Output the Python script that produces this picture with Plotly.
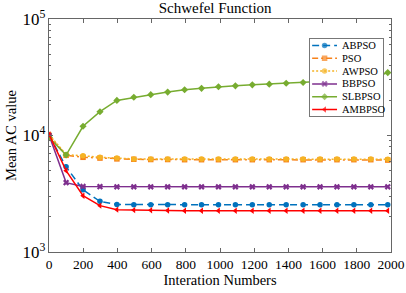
import plotly.graph_objects as go

iters = [1 + 99 * k for k in range(21)]

abpso = [10000, 5390, 3420, 2720, 2560, 2550, 2550, 2550, 2550, 2550, 2550,
         2550, 2550, 2550, 2550, 2550, 2550, 2550, 2550, 2550, 2550]
pso = [10000, 6760, 6500, 6400, 6300, 6250, 6220, 6220, 6200, 6200, 6200,
       6200, 6200, 6200, 6200, 6200, 6200, 6200, 6200, 6200, 6150]
awpso = [10200, 6850, 6700, 6500, 6400, 6300, 6300, 6300, 6280, 6280, 6280,
         6280, 6280, 6280, 6280, 6280, 6280, 6280, 6280, 6280, 6250]
bbpso = [10000, 3940, 3650, 3640, 3630, 3630, 3630, 3630, 3630, 3630, 3630,
         3630, 3630, 3630, 3630, 3630, 3630, 3630, 3630, 3630, 3630]
slbpso = [9600, 6800, 12000, 16000, 20000, 21300, 22400, 23600, 24700, 25400,
          26200, 26700, 27200, 27600, 28100, 28500, 28900, 29400, 29900, 30500, 34700]
ambpso = [10200, 4990, 3040, 2500, 2310, 2290, 2280, 2270, 2260, 2260, 2260,
          2260, 2260, 2260, 2260, 2260, 2260, 2260, 2260, 2260, 2260]

names = ["ABPSO", "PSO", "AWPSO", "BBPSO", "SLBPSO", "AMBPSO"]
values = [abpso, pso, awpso, bbpso, slbpso, ambpso]
colors = ["#0072BD", "#F7821B", "#F5B324", "#7E2F8E", "#77AC30", "#FF0000"]
dashes = ["7px,4px", "6px,3px,2px,3px", "2px,2px", "solid", "solid", "solid"]
symbols = ["circle", "square", "circle", "x", "diamond", "triangle-left"]

font = "Liberation Serif"
axcol = "#666666"

fig = go.Figure()
for name, vals, col, dash, sym in zip(names, values, colors, dashes, symbols):
    fig.add_trace(go.Scatter(
        x=iters, y=vals, name=name, mode="lines+markers", showlegend=False,
        line=dict(color=col, dash=dash, width=1.5),
        marker=dict(symbol=sym, size=5.5, color=col, line=dict(width=0)),
    ))

# custom legend drawn in a small inset subplot
for i, (name, col, dash, sym) in enumerate(zip(names, colors, dashes, symbols)):
    row = i + 0.5
    fig.add_trace(go.Scatter(
        x=[0.03, 0.2, 0.37], y=[row, row, row], mode="lines+markers",
        xaxis="x2", yaxis="y2", showlegend=False, hoverinfo="skip",
        line=dict(color=col, dash=dash, width=1.5),
        marker=dict(symbol=sym, size=[0, 5.5, 0], color=col, line=dict(width=0)),
    ))
    fig.add_annotation(x=0.41, y=row, xref="x2", yref="y2", text=name,
                       showarrow=False, xanchor="left", yanchor="middle",
                       font=dict(family=font, size=10.5, color="black"))

fig.add_shape(type="rect", xref="x2", yref="y2", x0=0, x1=1, y0=0, y1=6,
              fillcolor="white", line=dict(width=0), layer="below")

fig.update_layout(
    width=406, height=293,
    margin=dict(l=49, r=15, t=19, b=41, autoexpand=False),
    paper_bgcolor="white", plot_bgcolor="white",
    font=dict(family=font, size=13.5, color="black"),
    title=dict(text="Schwefel Function", x=0.53, xanchor="center",
               y=0.99, yanchor="top", font=dict(size=15, family=font)),
    showlegend=False,
    xaxis=dict(
        range=[0, 2000], dtick=200, tick0=0, domain=[0, 1], automargin=False,
        ticks="inside", ticklen=4, tickcolor=axcol,
        showline=True, linecolor=axcol, linewidth=1, mirror="ticks",
        showgrid=False, zeroline=False,
        title=dict(text="Interation Numbers", standoff=2,
                   font=dict(size=14.5, family=font)),
        tickfont=dict(size=13.5, family=font),
    ),
    yaxis=dict(
        type="log", range=[3, 5], dtick=1, exponentformat="power",
        domain=[0, 1], automargin=False,
        ticks="inside", ticklen=4, tickcolor=axcol,
        minor=dict(ticks="inside", ticklen=2, tickcolor=axcol, showgrid=False),
        showline=True, linecolor=axcol, linewidth=1, mirror="ticks",
        showgrid=False, zeroline=False,
        title=dict(text="Mean AC value", standoff=2,
                   font=dict(size=14.5, family=font)),
        tickfont=dict(size=13.5, family=font),
    ),
    xaxis2=dict(domain=[0.763, 0.977], range=[0, 1], anchor="y2",
                automargin=False,
                showticklabels=False, ticks="", showgrid=False, zeroline=False,
                showline=True, mirror=True, linecolor="#777777", linewidth=1,
                fixedrange=True),
    yaxis2=dict(domain=[0.584, 0.914], range=[6, 0], anchor="x2",
                automargin=False,
                showticklabels=False, ticks="", showgrid=False, zeroline=False,
                showline=True, mirror=True, linecolor="#777777", linewidth=1,
                fixedrange=True),
)

fig.write_html("out.html", config={"displayModeBar": False},
               post_script="document.body.style.margin='0';"
                           "document.body.style.overflow='hidden';")
